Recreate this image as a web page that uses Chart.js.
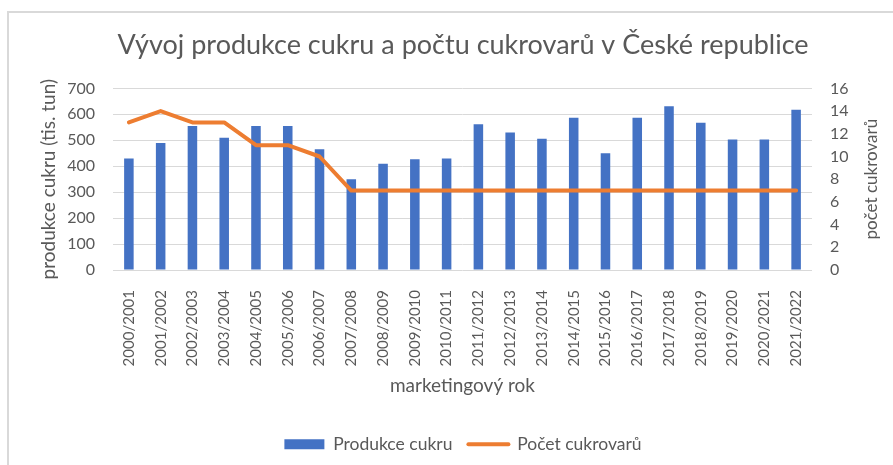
<!DOCTYPE html>
<html>
<head>
<meta charset="utf-8">
<script src="https://cdn.jsdelivr.net/npm/chart.js@4"></script>
<style>
  html, body { margin: 0; padding: 0; background: #fff; overflow: hidden; }
  #frame { position: absolute; left: 7px; top: 11px; width: 1000px; height: 1000px;
           border-left: 2px solid #d9d9d9; border-top: 2px solid #d9d9d9; }
  #wrap { position: absolute; left: 0; top: 0; width: 893px; height: 465px; }
</style>
</head>
<body>
<div id="frame"></div>
<div id="wrap"><canvas id="chart-cukr"></canvas></div>
<script>
// marketingové roky
const years = ['2000/2001', '2001/2002', '2002/2003', '2003/2004', '2004/2005', '2005/2006',
  '2006/2007', '2007/2008', '2008/2009', '2009/2010', '2010/2011', '2011/2012', '2012/2013',
  '2013/2014', '2014/2015', '2015/2016', '2016/2017', '2017/2018', '2018/2019', '2019/2020',
  '2020/2021', '2021/2022'];

// produkce cukru (tis. tun)
const production = [430, 490, 555, 510, 555, 555, 465, 350, 410, 427, 430, 562, 530, 506,
  587, 450, 587, 631, 568, 503, 503, 618];

// počet cukrovarů
const factories = [13, 14, 13, 13, 11, 11, 10, 7, 7, 7, 7, 7, 7, 7, 7, 7, 7, 7, 7, 7, 7, 7];

const leftTicks = [0, 100, 200, 300, 400, 500, 600, 700];
const rightTicks = [0, 2, 4, 6, 8, 10, 12, 14, 16];

const textColor = '#595959';
const blue = '#4472C4';
const orange = '#ED7D31';

Chart.defaults.font.family = 'Lato';
Chart.defaults.color = textColor;

const padLeft = 33;
const padBottom = 2;

// titulek pravé osy čte zdola nahoru (jako v Excelu)
const rightTitle = {
  id: 'rightTitle',
  afterDraw(chart) {
    const ctx = chart.ctx;
    const area = chart.chartArea;
    ctx.save();
    ctx.translate(872, (area.top + area.bottom) / 2);
    ctx.rotate(-Math.PI / 2);
    ctx.font = '17px Lato';
    ctx.fillStyle = textColor;
    ctx.textAlign = 'center';
    ctx.textBaseline = 'middle';
    ctx.fillText('počet cukrovarů', 0, 0);
    ctx.restore();
  }
};

const ctx = document.getElementById('chart-cukr').getContext('2d');
const chartCukr = new Chart(ctx, {
  data: {
    labels: years,
    datasets: [{
      type: 'bar',
      label: 'Produkce cukru',
      data: production,
      backgroundColor: blue,
      barPercentage: 0.3,
      categoryPercentage: 1,
      yAxisID: 'y',
      order: 2
    }, {
      type: 'line',
      label: 'Počet cukrovarů',
      data: factories,
      borderColor: orange,
      backgroundColor: orange,
      borderWidth: 4,
      pointRadius: 0,
      borderCapStyle: 'round',
      borderJoinStyle: 'round',
      tension: 0,
      yAxisID: 'y1',
      order: 1
    }]
  },
  options: {
    responsive: true,
    maintainAspectRatio: false,
    animation: false,
    layout: { padding: { left: padLeft, right: 0, top: 0, bottom: padBottom } },
    scales: {
      x: {
        grid: { display: false },
        border: { display: false },
        ticks: { minRotation: 90, maxRotation: 90, padding: 12, font: { size: 15 }, color: textColor },
        title: { display: true, text: 'marketingový rok', font: { size: 19 }, color: textColor, padding: { top: 0, bottom: 22 } },
        afterFit: scale => {
          scale.height = 465 - 270 - scale.chart.legend.height - padBottom;
        }
      },
      y: {
        position: 'left',
        min: 0,
        max: 700,
        afterBuildTicks: scale => { scale.ticks = leftTicks.map(v => ({ value: v })); },
        grid: { color: '#d9d9d9', lineWidth: 1, drawTicks: false },
        border: { display: false },
        ticks: { padding: 18, font: { size: 16 }, color: textColor },
        title: { display: true, text: 'produkce cukru (tis. tun)', font: { size: 19 }, color: textColor, padding: { top: 4 } },
        afterFit: scale => { scale.width = 113 - padLeft; }
      },
      y1: {
        position: 'right',
        min: 0,
        max: 16,
        afterBuildTicks: scale => { scale.ticks = rightTicks.map(v => ({ value: v })); },
        grid: { display: false, drawTicks: false },
        border: { display: false },
        ticks: { padding: 18, font: { size: 16 }, color: textColor },
        afterFit: scale => { scale.width = 893 - 812; }
      }
    },
    plugins: {
      title: {
        display: true,
        text: 'Vývoj produkce cukru a počtu cukrovarů v České republice',
        font: { size: 27, weight: 'normal' },
        color: textColor,
        padding: { top: 29, bottom: 27 }
      },
      legend: {
        position: 'bottom',
        labels: {
          usePointStyle: true,
          pointStyleWidth: 40,
          boxHeight: 10,
          padding: 16,
          font: { size: 17.5 },
          color: textColor,
          generateLabels: chart => {
            const items = Chart.defaults.plugins.legend.labels.generateLabels(chart);
            items.sort((a, b) => a.datasetIndex - b.datasetIndex);
            items.forEach(item => {
              if (item.datasetIndex === 0) {
                item.pointStyle = 'rect';
                item.lineWidth = 0;
              } else {
                item.pointStyle = 'line';
                item.lineWidth = 4;
                item.strokeStyle = orange;
                item.lineCap = 'round';
              }
            });
            return items;
          }
        }
      },
      tooltip: { enabled: false }
    }
  },
  plugins: [rightTitle]
});
</script>
</body>
</html>
